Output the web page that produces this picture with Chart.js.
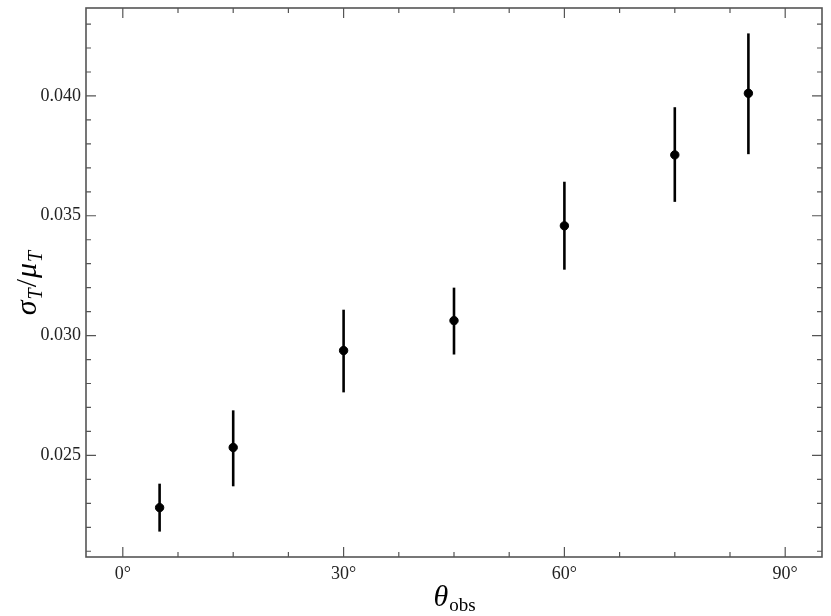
<!DOCTYPE html>
<html>
<head>
<meta charset="utf-8">
<script src="https://cdn.jsdelivr.net/npm/chart.js@4"></script>
<style>
  html, body { margin: 0; padding: 0; background: #fff; }
  #wrap { width: 831px; height: 616px; }
</style>
</head>
<body>
<div id="wrap"><canvas id="sigmaChart" width="831" height="616"></canvas></div>
<script>
// viewing angle (deg) and sigma_T / mu_T with error bar ends
const angles = [5, 15, 30, 45, 60, 75, 85];
const ratio = [0.02282, 0.02533, 0.029375, 0.030625, 0.03458, 0.03754, 0.04011];
const errLow = [0.02182, 0.02371, 0.02763, 0.02921, 0.03275, 0.03558, 0.03757];
const errHigh = [0.02382, 0.02688, 0.03108, 0.03200, 0.03642, 0.03953, 0.04261];

// tick positions
const xMajor = [0, 30, 60, 90];
const xMinor = [-7.5, 7.5, 15, 22.5, 37.5, 45, 52.5, 67.5, 75, 82.5, 97.5];
const yMajor = [0.025, 0.030, 0.035, 0.040];
const yMinor = [0.021, 0.022, 0.023, 0.024, 0.026, 0.027, 0.028, 0.029, 0.031, 0.032,
                0.033, 0.034, 0.036, 0.037, 0.038, 0.039, 0.041, 0.042, 0.043];

const serif = '"Liberation Serif", "DejaVu Serif", serif';
const axisCol = '#555';

// error bars drawn under the points
const errorBars = {
  id: 'errorBars',
  beforeDatasetsDraw(chart) {
    const { ctx, scales: { x, y } } = chart;
    ctx.save();
    ctx.strokeStyle = '#000';
    ctx.lineWidth = 2.6;
    angles.forEach((a, i) => {
      const px = x.getPixelForValue(a);
      ctx.beginPath();
      ctx.moveTo(px, y.getPixelForValue(errLow[i]));
      ctx.lineTo(px, y.getPixelForValue(errHigh[i]));
      ctx.stroke();
    });
    ctx.restore();
  }
};

// frame + inward ticks on all four sides, plus axis titles with subscripts
const frameAndTitles = {
  id: 'frameAndTitles',
  afterDraw(chart) {
    const { ctx, chartArea: ca, scales: { x, y } } = chart;
    ctx.save();
    ctx.strokeStyle = axisCol;
    ctx.lineWidth = 1.6;
    ctx.strokeRect(ca.left, ca.top, ca.right - ca.left, ca.bottom - ca.top);

    ctx.lineWidth = 1.2;
    const tickX = (vals, len) => vals.forEach(v => {
      const px = x.getPixelForValue(v);
      if (px < ca.left || px > ca.right) return;
      ctx.beginPath();
      ctx.moveTo(px, ca.bottom); ctx.lineTo(px, ca.bottom - len);
      ctx.moveTo(px, ca.top); ctx.lineTo(px, ca.top + len);
      ctx.stroke();
    });
    const tickY = (vals, len) => vals.forEach(v => {
      const py = y.getPixelForValue(v);
      if (py < ca.top || py > ca.bottom) return;
      ctx.beginPath();
      ctx.moveTo(ca.left, py); ctx.lineTo(ca.left + len, py);
      ctx.moveTo(ca.right, py); ctx.lineTo(ca.right - len, py);
      ctx.stroke();
    });
    tickX(xMajor, 10); tickX(xMinor, 5);
    tickY(yMajor, 10); tickY(yMinor, 5);

    // x title: theta_obs
    ctx.fillStyle = '#000';
    ctx.textBaseline = 'alphabetic';
    const cx = (ca.left + ca.right) / 2;
    ctx.font = 'italic 30px ' + serif;
    const wT = ctx.measureText('θ').width;
    ctx.font = '19px ' + serif;
    const wS = ctx.measureText('obs').width;
    let sx = cx - (wT + wS) / 2;
    ctx.font = 'italic 30px ' + serif;
    ctx.fillText('θ', sx, 606);
    ctx.font = '19px ' + serif;
    ctx.fillText('obs', sx + wT + 1, 611);

    // y title: sigma_T / mu_T (rotated)
    ctx.translate(36, (ca.top + ca.bottom) / 2);
    ctx.rotate(-Math.PI / 2);
    const parts = [
      ['σ', 'italic 30px ', 0], ['T', 'italic 20px ', 6],
      ['/', '30px ', 0], ['μ', 'italic 30px ', 0], ['T', 'italic 20px ', 6]
    ];
    let total = 0;
    parts.forEach(p => { ctx.font = p[1] + serif; total += ctx.measureText(p[0]).width + 1; });
    let px = -total / 2;
    parts.forEach(p => {
      ctx.font = p[1] + serif;
      ctx.fillText(p[0], px, p[2]);
      px += ctx.measureText(p[0]).width + 1;
    });
    ctx.restore();
  }
};

new Chart(document.getElementById('sigmaChart').getContext('2d'), {
  type: 'scatter',
  data: {
    datasets: [{
      data: angles.map((a, i) => ({ x: a, y: ratio[i] })),
      backgroundColor: '#000',
      borderColor: '#000',
      pointRadius: 4.2,
      pointHoverRadius: 4.2
    }]
  },
  options: {
    responsive: false,
    animation: false,
    layout: { padding: { left: 0, right: 9, top: 8, bottom: 0 } },
    plugins: { legend: { display: false }, tooltip: { enabled: false } },
    scales: {
      x: {
        type: 'linear',
        min: -5, max: 95,
        afterBuildTicks: s => { s.ticks = xMajor.map(v => ({ value: v })); },
        afterFit: s => { s.height = 59; s.paddingLeft = 0; s.paddingRight = 0; },
        grid: { display: false, drawTicks: false },
        border: { display: false },
        ticks: {
          padding: 6,
          color: '#222',
          font: { family: serif, size: 18 },
          callback: v => v + '°'
        }
      },
      y: {
        type: 'linear',
        min: 0.02076, max: 0.04367,
        afterBuildTicks: s => { s.ticks = yMajor.map(v => ({ value: v })); },
        afterFit: s => { s.width = 86; s.paddingTop = 0; s.paddingBottom = 0; },
        grid: { display: false, drawTicks: false },
        border: { display: false },
        ticks: {
          padding: 5,
          color: '#222',
          font: { family: serif, size: 18 },
          callback: v => v.toFixed(3)
        }
      }
    }
  },
  plugins: [errorBars, frameAndTitles]
});
</script>
</body>
</html>
